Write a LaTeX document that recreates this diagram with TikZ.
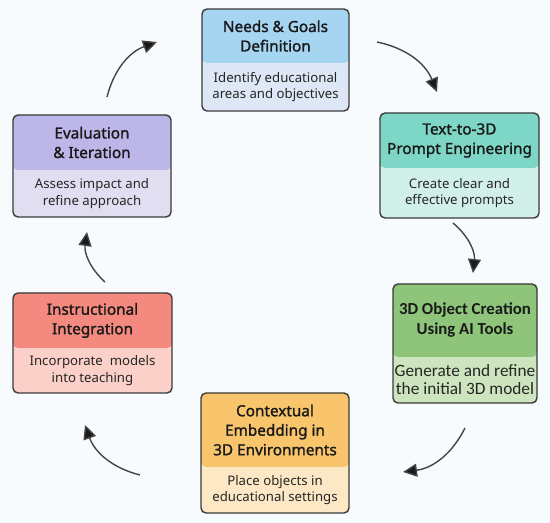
\documentclass[tikz,border=0pt]{standalone}
\usepackage{fontspec}
\setmainfont{Noto Sans}
\newfontfamily\headfont{Noto Sans}[FakeBold=1.4]
\newfontfamily\calfont{Carlito}
\usetikzlibrary{arrows.meta,positioning}

\definecolor{pagebg}{HTML}{F8FBFD}
\definecolor{cardline}{HTML}{3A3A3A}
\definecolor{arrowgray}{HTML}{444444}
\definecolor{needsHead}{HTML}{A6D5F2}
\definecolor{needsBody}{HTML}{DDE7F5}
\definecolor{promptHead}{HTML}{7DD6C6}
\definecolor{promptBody}{HTML}{D2F0EA}
\definecolor{objectHead}{HTML}{8EC57B}
\definecolor{objectBody}{HTML}{CDE5BE}
\definecolor{embedHead}{HTML}{F8C56D}
\definecolor{embedBody}{HTML}{FDE8C6}
\definecolor{instrHead}{HTML}{F48A7F}
\definecolor{instrBody}{HTML}{FBD0C8}
\definecolor{evalHead}{HTML}{BDB6E8}
\definecolor{evalBody}{HTML}{E2DEF2}

\tikzset{
  card/.style n args={3}{draw=cardline, line width=1.4pt, rounded corners=5pt,
    fill=#2, inner sep=0pt, outer sep=0pt,
    path picture={\fill[#1] (path picture bounding box.north west)
      rectangle ([yshift=-#3]path picture bounding box.north east);}},
  headtext/.style={align=center, inner sep=0pt, text=black!90,
    font=\headfont\fontsize{15.3}{19.5}\selectfont},
  bodytext/.style={align=center, inner sep=0pt, text=black!85,
    font=\fontsize{13.2}{16.5}\selectfont},
  cycle/.style={draw=arrowgray, line width=1.4pt,
    -{Triangle[length=14pt,width=13pt,fill=black!90]}, bend left=28}
}

\begin{document}
\begin{tikzpicture}[x=1pt,y=1pt]
\useasboundingbox (0,0) rectangle (550,523);
\fill[pagebg] (0,0) rectangle (550,523);

% six stages
\node[card={needsHead}{needsBody}{54pt}, minimum width=147pt, minimum height=102pt] (needs) at (275.5,463) {};
\node[card={promptHead}{promptBody}{55pt}, minimum width=159pt, minimum height=105pt] (prompt) at (459.5,357.5) {};
\node[card={objectHead}{objectBody}{73pt}, minimum width=144pt, minimum height=119pt] (object) at (465,179.5) {};
\node[card={embedHead}{embedBody}{74pt}, minimum width=148pt, minimum height=120pt] (embed) at (275,70) {};
\node[card={instrHead}{instrBody}{55pt}, minimum width=159pt, minimum height=100pt] (instr) at (92.5,180) {};
\node[card={evalHead}{evalBody}{55pt}, minimum width=158pt, minimum height=102pt] (eval) at (92,357) {};

\node[headtext] (needsT) at ([yshift=-27pt]needs.north) {Needs \& Goals\\Definition};
\node[bodytext] (needsB) at ([yshift=24pt]needs.south) {Identify educational\\areas and objectives};

\node[headtext] (promptT) at ([yshift=-27.5pt]prompt.north) {Text-to-3D\\Prompt Engineering};
\node[bodytext] (promptB) at ([yshift=25pt]prompt.south) {Create clear and\\effective prompts};

\node[headtext, font=\calfont\bfseries\fontsize{16.8}{20}\selectfont] (objectT) at ([yshift=-36.5pt]object.north) {3D Object Creation\\Using AI Tools};
\node[bodytext, font=\calfont\fontsize{17.3}{18}\selectfont] (objectB) at ([yshift=23pt]object.south) {Generate and refine\\the initial 3D model};

\node[headtext] (embedT) at ([yshift=-37pt]embed.north) {Contextual\\Embedding in\\3D Environments};
\node[bodytext] (embedB) at ([yshift=23pt]embed.south) {Place objects in\\educational settings};

\node[headtext] (instrT) at ([yshift=-27.5pt]instr.north) {Instructional\\Integration};
\node[bodytext] (instrB) at ([yshift=22.5pt]instr.south) {Incorporate\ \ models\\into teaching};

\node[headtext] (evalT) at ([yshift=-27.5pt]eval.north) {Evaluation\\\& Iteration};
\node[bodytext] (evalB) at ([yshift=23.5pt]eval.south) {Assess impact and\\refine approach};

% arrow ends
\coordinate (a1s) at (107,426);
\coordinate (a1e) at (157,481);
\coordinate (a2s) at (377,481);
\coordinate (a2e) at (437,431);
\coordinate (a3s) at (453,300);
\coordinate (a3e) at (473,250);
\coordinate (a4s) at (465,95);
\coordinate (a4e) at (403,51);
\coordinate (a5s) at (140,48);
\coordinate (a5e) at (85,98);
\coordinate (a6s) at (105,241);
\coordinate (a6e) at (87,291);

\draw[cycle] (a1s) to (a1e);
\draw[cycle] (a2s) to (a2e);
\draw[cycle] (a3s) to (a3e);
\draw[cycle] (a4s) to (a4e);
\draw[cycle] (a5s) to (a5e);
\draw[cycle] (a6s) to (a6e);

\end{tikzpicture}
\end{document}
